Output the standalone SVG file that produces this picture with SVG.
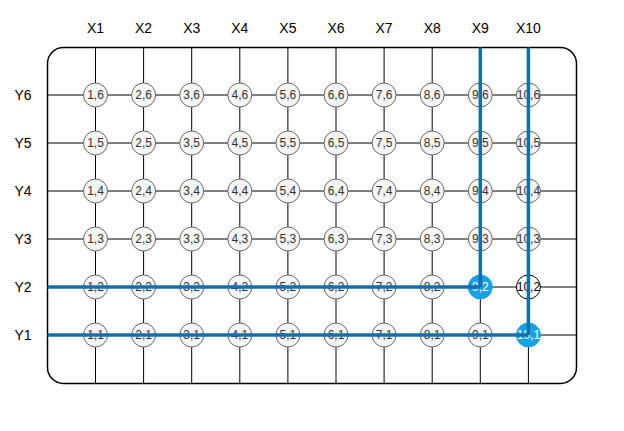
<svg xmlns="http://www.w3.org/2000/svg" width="624" height="431" viewBox="0 0 624 431">
<style>
.lbl{font-family:"Liberation Sans",Arial,sans-serif;font-size:14px;fill:#000;text-anchor:middle;dominant-baseline:central}
.grid line{stroke:#000;stroke-width:1}
.n circle{fill:#f5f5f5;stroke:#666;stroke-width:1}
.n text{font-family:"Liberation Sans",Arial,sans-serif;font-size:12px;fill:#333;text-anchor:middle;dominant-baseline:central}
.sel circle{fill:#1ba1e2;stroke:#1ba1e2}
.sel text{fill:#fff}
.wht circle{fill:#fff;stroke:#000}
.wht text{fill:#000}
.blue line{stroke:#106fb0;stroke-width:3.5}
</style>
<rect x="47.5" y="47.5" width="529" height="336" rx="16" ry="16" fill="#fff" stroke="#000" stroke-width="1.5"/>
<g id="connectors">
<g class="grid">
<line x1="47.5" y1="95" x2="576.5" y2="95"/>
<line x1="47.5" y1="143" x2="576.5" y2="143"/>
<line x1="47.5" y1="191" x2="576.5" y2="191"/>
<line x1="47.5" y1="239" x2="576.5" y2="239"/>
<line x1="47.5" y1="287" x2="576.5" y2="287"/>
<line x1="47.5" y1="335" x2="576.5" y2="335"/>
<line x1="95.5" y1="47.5" x2="95.5" y2="383.5"/>
<line x1="143.6" y1="47.5" x2="143.6" y2="383.5"/>
<line x1="191.7" y1="47.5" x2="191.7" y2="383.5"/>
<line x1="239.8" y1="47.5" x2="239.8" y2="383.5"/>
<line x1="287.9" y1="47.5" x2="287.9" y2="383.5"/>
<line x1="336" y1="47.5" x2="336" y2="383.5"/>
<line x1="384.1" y1="47.5" x2="384.1" y2="383.5"/>
<line x1="432.2" y1="47.5" x2="432.2" y2="383.5"/>
<line x1="480.3" y1="47.5" x2="480.3" y2="383.5"/>
<line x1="528.4" y1="47.5" x2="528.4" y2="383.5"/>
</g>
</g>
<g id="axis-labels">
<text class="lbl" x="95.5" y="28">X1</text>
<text class="lbl" x="143.6" y="28">X2</text>
<text class="lbl" x="191.7" y="28">X3</text>
<text class="lbl" x="239.8" y="28">X4</text>
<text class="lbl" x="287.9" y="28">X5</text>
<text class="lbl" x="336" y="28">X6</text>
<text class="lbl" x="384.1" y="28">X7</text>
<text class="lbl" x="432.2" y="28">X8</text>
<text class="lbl" x="480.3" y="28">X9</text>
<text class="lbl" x="528.4" y="28">X10</text>
<text class="lbl" x="23" y="95">Y6</text>
<text class="lbl" x="23" y="143">Y5</text>
<text class="lbl" x="23" y="191">Y4</text>
<text class="lbl" x="23" y="239">Y3</text>
<text class="lbl" x="23" y="287">Y2</text>
<text class="lbl" x="23" y="335">Y1</text>
</g>
<g id="nodes">
<g id="n1-6" class="n"><circle cx="95.5" cy="95" r="12"/><text x="95.5" y="95">1,6</text></g>
<g id="n2-6" class="n"><circle cx="143.6" cy="95" r="12"/><text x="143.6" y="95">2,6</text></g>
<g id="n3-6" class="n"><circle cx="191.7" cy="95" r="12"/><text x="191.7" y="95">3,6</text></g>
<g id="n4-6" class="n"><circle cx="239.8" cy="95" r="12"/><text x="239.8" y="95">4,6</text></g>
<g id="n5-6" class="n"><circle cx="287.9" cy="95" r="12"/><text x="287.9" y="95">5,6</text></g>
<g id="n6-6" class="n"><circle cx="336" cy="95" r="12"/><text x="336" y="95">6,6</text></g>
<g id="n7-6" class="n"><circle cx="384.1" cy="95" r="12"/><text x="384.1" y="95">7,6</text></g>
<g id="n8-6" class="n"><circle cx="432.2" cy="95" r="12"/><text x="432.2" y="95">8,6</text></g>
<g id="n9-6" class="n"><circle cx="480.3" cy="95" r="12"/><text x="480.3" y="95">9,6</text></g>
<g id="n10-6" class="n"><circle cx="528.4" cy="95" r="12"/><text x="528.4" y="95">10,6</text></g>
<g id="n1-5" class="n"><circle cx="95.5" cy="143" r="12"/><text x="95.5" y="143">1,5</text></g>
<g id="n2-5" class="n"><circle cx="143.6" cy="143" r="12"/><text x="143.6" y="143">2,5</text></g>
<g id="n3-5" class="n"><circle cx="191.7" cy="143" r="12"/><text x="191.7" y="143">3,5</text></g>
<g id="n4-5" class="n"><circle cx="239.8" cy="143" r="12"/><text x="239.8" y="143">4,5</text></g>
<g id="n5-5" class="n"><circle cx="287.9" cy="143" r="12"/><text x="287.9" y="143">5,5</text></g>
<g id="n6-5" class="n"><circle cx="336" cy="143" r="12"/><text x="336" y="143">6,5</text></g>
<g id="n7-5" class="n"><circle cx="384.1" cy="143" r="12"/><text x="384.1" y="143">7,5</text></g>
<g id="n8-5" class="n"><circle cx="432.2" cy="143" r="12"/><text x="432.2" y="143">8,5</text></g>
<g id="n9-5" class="n"><circle cx="480.3" cy="143" r="12"/><text x="480.3" y="143">9,5</text></g>
<g id="n10-5" class="n"><circle cx="528.4" cy="143" r="12"/><text x="528.4" y="143">10,5</text></g>
<g id="n1-4" class="n"><circle cx="95.5" cy="191" r="12"/><text x="95.5" y="191">1,4</text></g>
<g id="n2-4" class="n"><circle cx="143.6" cy="191" r="12"/><text x="143.6" y="191">2,4</text></g>
<g id="n3-4" class="n"><circle cx="191.7" cy="191" r="12"/><text x="191.7" y="191">3,4</text></g>
<g id="n4-4" class="n"><circle cx="239.8" cy="191" r="12"/><text x="239.8" y="191">4,4</text></g>
<g id="n5-4" class="n"><circle cx="287.9" cy="191" r="12"/><text x="287.9" y="191">5,4</text></g>
<g id="n6-4" class="n"><circle cx="336" cy="191" r="12"/><text x="336" y="191">6,4</text></g>
<g id="n7-4" class="n"><circle cx="384.1" cy="191" r="12"/><text x="384.1" y="191">7,4</text></g>
<g id="n8-4" class="n"><circle cx="432.2" cy="191" r="12"/><text x="432.2" y="191">8,4</text></g>
<g id="n9-4" class="n"><circle cx="480.3" cy="191" r="12"/><text x="480.3" y="191">9,4</text></g>
<g id="n10-4" class="n"><circle cx="528.4" cy="191" r="12"/><text x="528.4" y="191">10,4</text></g>
<g id="n1-3" class="n"><circle cx="95.5" cy="239" r="12"/><text x="95.5" y="239">1,3</text></g>
<g id="n2-3" class="n"><circle cx="143.6" cy="239" r="12"/><text x="143.6" y="239">2,3</text></g>
<g id="n3-3" class="n"><circle cx="191.7" cy="239" r="12"/><text x="191.7" y="239">3,3</text></g>
<g id="n4-3" class="n"><circle cx="239.8" cy="239" r="12"/><text x="239.8" y="239">4,3</text></g>
<g id="n5-3" class="n"><circle cx="287.9" cy="239" r="12"/><text x="287.9" y="239">5,3</text></g>
<g id="n6-3" class="n"><circle cx="336" cy="239" r="12"/><text x="336" y="239">6,3</text></g>
<g id="n7-3" class="n"><circle cx="384.1" cy="239" r="12"/><text x="384.1" y="239">7,3</text></g>
<g id="n8-3" class="n"><circle cx="432.2" cy="239" r="12"/><text x="432.2" y="239">8,3</text></g>
<g id="n9-3" class="n"><circle cx="480.3" cy="239" r="12"/><text x="480.3" y="239">9,3</text></g>
<g id="n10-3" class="n"><circle cx="528.4" cy="239" r="12"/><text x="528.4" y="239">10,3</text></g>
<g id="n1-2" class="n"><circle cx="95.5" cy="287" r="12"/><text x="95.5" y="287">1,2</text></g>
<g id="n2-2" class="n"><circle cx="143.6" cy="287" r="12"/><text x="143.6" y="287">2,2</text></g>
<g id="n3-2" class="n"><circle cx="191.7" cy="287" r="12"/><text x="191.7" y="287">3,2</text></g>
<g id="n4-2" class="n"><circle cx="239.8" cy="287" r="12"/><text x="239.8" y="287">4,2</text></g>
<g id="n5-2" class="n"><circle cx="287.9" cy="287" r="12"/><text x="287.9" y="287">5,2</text></g>
<g id="n6-2" class="n"><circle cx="336" cy="287" r="12"/><text x="336" y="287">6,2</text></g>
<g id="n7-2" class="n"><circle cx="384.1" cy="287" r="12"/><text x="384.1" y="287">7,2</text></g>
<g id="n8-2" class="n"><circle cx="432.2" cy="287" r="12"/><text x="432.2" y="287">8,2</text></g>
<g id="n9-2" class="n sel"><circle cx="480.3" cy="287" r="12"/><text x="480.3" y="287">9,2</text></g>
<g id="n10-2" class="n wht"><circle cx="528.4" cy="287" r="12"/><text x="528.4" y="287">10,2</text></g>
<g id="n1-1" class="n"><circle cx="95.5" cy="335" r="12"/><text x="95.5" y="335">1,1</text></g>
<g id="n2-1" class="n"><circle cx="143.6" cy="335" r="12"/><text x="143.6" y="335">2,1</text></g>
<g id="n3-1" class="n"><circle cx="191.7" cy="335" r="12"/><text x="191.7" y="335">3,1</text></g>
<g id="n4-1" class="n"><circle cx="239.8" cy="335" r="12"/><text x="239.8" y="335">4,1</text></g>
<g id="n5-1" class="n"><circle cx="287.9" cy="335" r="12"/><text x="287.9" y="335">5,1</text></g>
<g id="n6-1" class="n"><circle cx="336" cy="335" r="12"/><text x="336" y="335">6,1</text></g>
<g id="n7-1" class="n"><circle cx="384.1" cy="335" r="12"/><text x="384.1" y="335">7,1</text></g>
<g id="n8-1" class="n"><circle cx="432.2" cy="335" r="12"/><text x="432.2" y="335">8,1</text></g>
<g id="n9-1" class="n"><circle cx="480.3" cy="335" r="12"/><text x="480.3" y="335">9,1</text></g>
<g id="n10-1" class="n sel"><circle cx="528.4" cy="335" r="12"/><text x="528.4" y="335">10,1</text></g>
</g>
<g id="highlight" class="blue">
<line x1="480.3" y1="47.5" x2="480.3" y2="287"/>
<line x1="528.4" y1="47.5" x2="528.4" y2="335"/>
<line x1="47.5" y1="287" x2="480.3" y2="287"/>
<line x1="47.5" y1="335" x2="528.4" y2="335"/>
</g>
</svg>
